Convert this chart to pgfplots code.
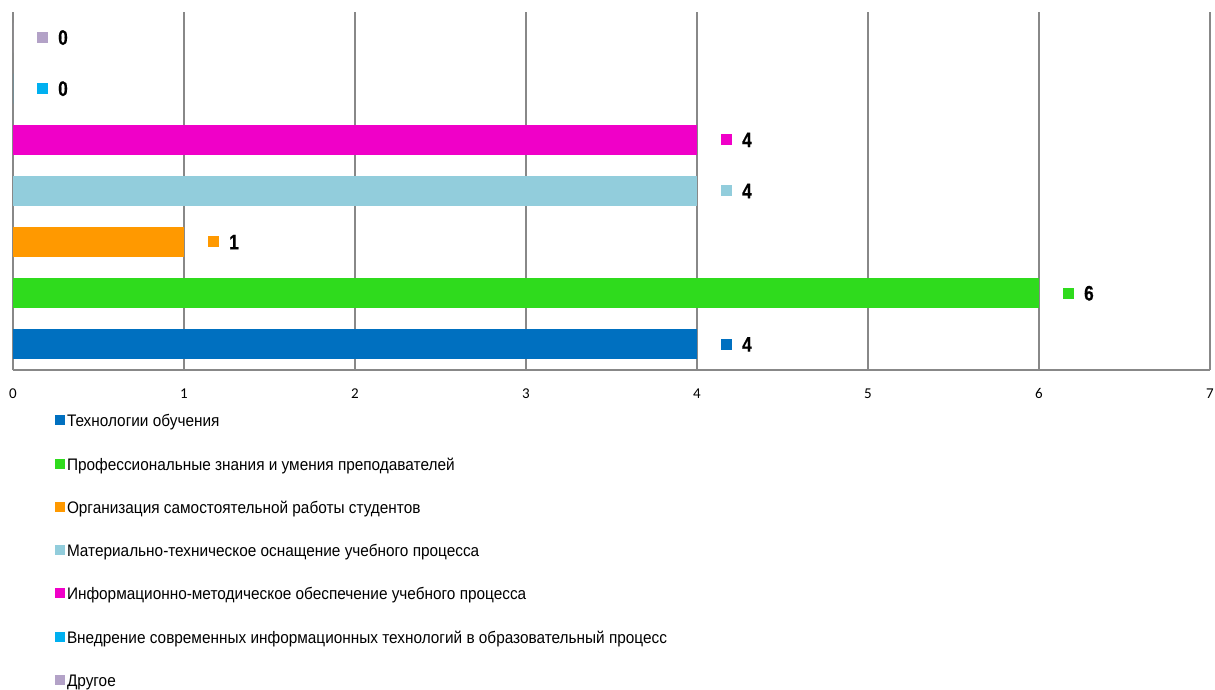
\documentclass[border=0pt]{standalone}
\usepackage{fontspec}
\setmainfont{Liberation Sans}[FakeStretch=0.82]
\newfontfamily\legfont{Liberation Sans}[FakeStretch=0.92]
\newfontfamily\labfont{Liberation Sans}[FakeStretch=0.82, BoldFeatures={FakeBold=0.6}]
\newfontfamily\calibri{Carlito}
\usepackage{pgfplots}
\pgfplotsset{compat=1.18}
\definecolor{cTech}{HTML}{0070C0}
\definecolor{cProf}{HTML}{2FDB1D}
\definecolor{cOrg}{HTML}{FF9900}
\definecolor{cMat}{HTML}{92CDDC}
\definecolor{cInf}{HTML}{F000C8}
\definecolor{cVn}{HTML}{00B0F0}
\definecolor{cOth}{HTML}{B3A2C7}
\definecolor{gridgray}{HTML}{888888}
\pgfplotsset{
  lab/.style={fill=#1, draw=none,
    nodes near coords={\textcolor{#1}{\raisebox{2pt}{\rule{11pt}{11pt}}}\hspace{10pt}{\labfont\bfseries\pgfmathprintnumber{\pgfplotspointmeta}}}},
}
\begin{document}
\begin{tikzpicture}
\useasboundingbox (-13pt,-319pt) rectangle (1202pt,370pt);
\begin{axis}[
  scale only axis,
  width=1197pt, height=358pt,
  xbar, bar width=30pt, bar shift=0pt,
  point meta=x,
  xmin=0, xmax=7, ymin=-0.5, ymax=6.5,
  enlargelimits=false,
  xtick={0,...,7}, ytick=\empty,
  major tick length=0pt,
  axis lines*=left,
  axis line style={-, draw=gridgray, line width=1.3pt},
  xmajorgrids,
  grid style={draw=gridgray, line width=1.5pt},
  /pgf/number format/assume math mode=true,
  xticklabel style={font=\calibri\fontsize{15}{18}\selectfont, inner sep=0pt, yshift=-18.5pt},
  every node near coord/.append style={anchor=west, inner sep=0pt, xshift=24pt, font=\fontsize{21}{24}\selectfont, text=black},
  clip=false,
  legend image code/.code={\fill[#1] (0pt,-2.5pt) rectangle (10pt,7.5pt);},
  legend cell align=left,
  legend style={at={(rel axis cs:0,0)}, anchor=north west, xshift=42pt, yshift=-44.75pt,
    draw=none, fill=none, inner sep=0pt, outer sep=0pt,
    font=\legfont\fontsize{16.7}{19}\selectfont,
    nodes={inner sep=0pt, text height=12pt, text depth=4pt},
    row sep=27.3pt, column sep=2pt},
]
\addplot[lab=cTech] coordinates {(4,0)};
\addplot[lab=cProf] coordinates {(6,1)};
\addplot[lab=cOrg] coordinates {(1,2)};
\addplot[lab=cMat] coordinates {(4,3)};
\addplot[lab=cInf] coordinates {(4,4)};
\addplot[lab=cVn] coordinates {(0,5)};
\addplot[lab=cOth] coordinates {(0,6)};
\legend{Технологии обучения,
  Профессиональные знания и умения преподавателей,
  Организация самостоятельной работы студентов,
  Материально-техническое оснащение учебного процесса,
  Информационно-методическое обеспечение учебного процесса,
  Внедрение современных информационных технологий в образовательный процесс,
  Другое}
\end{axis}
\end{tikzpicture}
\end{document}
